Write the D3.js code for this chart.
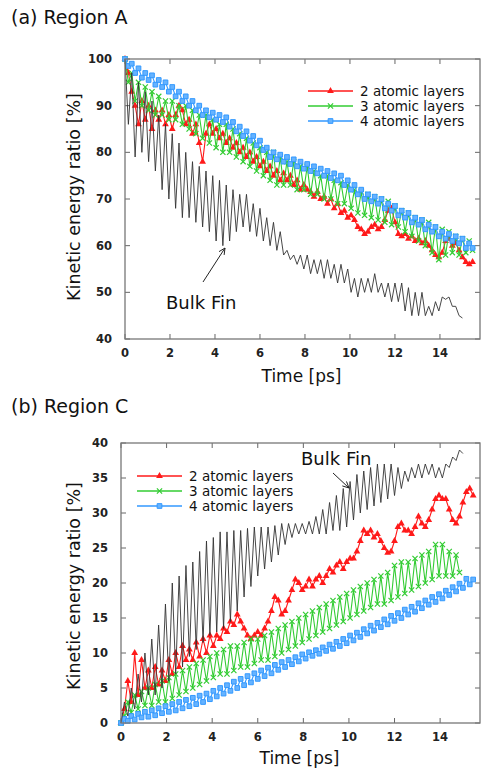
<!DOCTYPE html>
<html><head><meta charset="utf-8">
<script src="https://cdn.jsdelivr.net/npm/d3@7"></script>
<style>body{margin:0;background:#fff}svg{display:block}</style>
</head><body>
<svg id="c" width="485" height="770"></svg>
<script>
// ---------------- data ----------------
const timeStep = 0.15; // ps between samples
const xTickValues = [0, 2, 4, 6, 8, 10, 12, 14];
const yTicksA = [40, 50, 60, 70, 80, 90, 100];
const yTicksC = [0, 5, 10, 15, 20, 25, 30, 35, 40];
const seriesNames = ["2 atomic layers", "3 atomic layers", "4 atomic layers"];
const panelTitles = ["(a) Region A", "(b) Region C"];
const xLabel = "Time [ps]";
const yLabel = "Kinetic energy ratio [%]";
const bulkLabel = "Bulk Fin";

// Region A
const bulkA = [100,86,97,79,95,80,93,78,91,76,88,72,86,70,84,68,82,66,80,66,78,65,77,64,76,63,75,61,74,60,
  73,61,72,63,71,64,71,63,69,62,68,61,66,60,65,59,63,58,59,57,58,56,58,55,58,54,57,54,57,53,
  57,53,56,52,56,52,55,50,53,49,53,50,53,50,54,50,52,49,52,48,52,48,52,46,51,45,50,45,50,45,
  47,45,48,46,49,48.5,49,47,47,45,44.5];
const layer2A = [100,97,93,90,86,91,87,90,85,89,87,89,86,88,85,88,90,89,86,87,84,86,82,78,84,86,84,85,83,84,
  82,83,81,82,80,81,79,80,78,79,77,78,76,77,75,76,74,75.5,74,75,73,74,72,73,72,71.5,70.5,71.5,70,70.5,
  69,70,68,69,67,67.5,66,66.5,65.5,64,63.5,62.5,63,64,64.5,63.5,64,65.5,67.5,68,65,62.5,62,62.5,61.5,62,61,61.5,60.5,61,
  60,59,58,57.5,58.5,61,61.5,60,60.5,59,57.5,56.5,56,56.5];
const layer3A = [100,95,97,91,95,90,94,89,93,88,92,88,91,87,91,87,90,86,90,85,89,84,88,83,88,82,87,81,86,80,
  86,80,85,79,84,78,83,77,82,76,81,75,80,74,80,73,79,73,78,73,78,72,77,72,77,71,76,71,75,70,
  75,70,74,69,73.5,69,73,68,72,67,71.5,66.5,71,66,70.5,65.5,70,65,69.5,64.5,68.5,64,67.5,63,67,62,66,61,65.5,60,
  65,58.5,64,57,63.5,58,63,58.5,62,58,61.5,58.5,61,59];
const layer4A = [100,98.5,99,97,98,96,97,95.5,96.5,94.5,95.5,94,95,93,94,92,93,91,92,90,91,89,90,88,89,87.5,88.5,87,88,86.5,
  87.5,85.5,86.5,84.5,85.5,83.5,84.5,82.5,83.5,81.5,82.5,80.5,81,79,80,78.5,79.5,78,79,77.5,78.5,77,78,76.5,77.5,76,77,75.5,76.5,75,
  76,74.5,75.5,74,75,73,74,72,73,71,72,70,71,69.5,70.5,69,70,68,69,67.5,68.5,66.5,67.5,66,67,65,66,64.5,65.5,63.5,
  64.5,63,64,62,63,61.5,62.5,61,62,60.5,61.5,59.5,60.5,59.5];

// Region C
const bulkC = [0,3,1,5,2,7,3,10,4,12,4,14,5,17,6,20,7,21,8,22.5,9.5,23,10.5,24.5,11.5,26,12.5,26.5,13,27.3,
  13.5,27.3,14.5,27.5,16,27.5,18,27.8,19.5,28,21,28,22,28,23,28.2,24,28.5,25.5,28.5,26.5,28.5,27,28.5,27,28.8,27,29.5,
  27,30.5,27,31.5,27.5,32.5,27.5,33.5,28,34.5,29,35.5,30,36,30.5,36.5,31,37,31.5,37,32,37,32.5,36.5,33.5,36,34.5,36.5,
  35,37,35,37,35.5,37,35,36.5,35,37,36.5,38,37.5,39,38.5];
const layer2C = [0,2,6,3,10,4,9,5,7.5,5,8,5.5,7.5,6,9,7,10,8,11,9,10.5,9,11.5,9.5,12,10,12.5,11,12.5,12,
  13.5,13,14.5,14,15.5,14.5,13.5,12.5,12,12.5,13,12.5,13.5,14.5,16,18,17.5,15.5,16,17.5,19,20.5,20,19,19.5,20.5,19.5,20.5,21,20,
  21,22,21.5,22.5,23,22,23,23.5,23.5,24.5,26,27.5,27,27.5,26.5,27,26,25,24.3,24.5,26,28,28.5,27.5,27.5,27,28,29.5,28.5,28,
  29,30.5,32,32.5,32,32,30.5,29,28.5,29.5,31.5,33,33.5,32.5];
const layer3C = [0,1,3,1.5,4,2,4.5,2.5,5,2.5,5.5,3,6,3,6.5,3.5,7,4,7.5,4.5,8,5,8.5,5.5,9,6,9.5,6.5,10,7,
  10.5,7,11,7.5,11,8,11.5,8,12,8.5,12,9,12.5,9,13,9.5,13.5,10,14,10.5,14.5,11,15,11.5,15.5,12,16,12.5,16.5,13,
  17,13.5,17.5,14,18,14.5,18.5,15,19,15.5,19.5,16,20,16.5,20.5,17,21,17,21.5,17.5,22.5,18,23,18.5,23,19,23.5,19.5,24,20,
  24.5,20.5,25.5,21,25.5,21,24.5,21,24,21.5];
const layer4C = [0,0.6,0.3,1,0.5,1.3,0.8,1.6,0.9,1.8,1.1,2.1,1.4,2.4,1.6,2.7,1.8,3,2.1,3.3,2.4,3.6,2.7,3.9,3,4.2,3.4,4.6,3.8,5,
  4.2,5.4,4.6,5.9,5,6.3,5.4,6.7,5.8,7.1,6.3,7.5,6.7,7.9,7.1,8.3,7.6,8.7,8,9,8.4,9.4,8.8,9.8,9.2,10.1,9.6,10.4,9.9,10.8,
  10.3,11.2,10.6,11.6,11,12,11.4,12.5,11.8,12.9,12.3,13.4,12.8,13.9,13.2,14.3,13.7,14.8,14.1,15.3,14.6,15.7,15,16.2,15.5,16.6,15.9,17.1,16.4,17.5,
  16.9,18,17.3,18.4,17.8,18.9,18.3,19.4,18.8,19.9,19.3,20.6,19.8,20.5];

// ---------------- drawing ----------------
const svg = d3.select("#c");
const FONT = "'DejaVu Sans', Verdana, sans-serif";
const colors = ["#ff1a1a", "#33cc33", "#3399ff"];
const markerFill = ["#ff1a1a", "none", "#66b3ff"];
const toPts = arr => arr.map((v, i) => [i * timeStep, v]);

function marker(sel, k) {
  if (k === 0) {
    sel.append("path").attr("d", d3.symbol(d3.symbolTriangle, 20)()).attr("fill", colors[0]).attr("stroke", "none");
  } else if (k === 1) {
    sel.append("path").attr("d", "M-2.6,-2.6L2.6,2.6M-2.6,2.6L2.6,-2.6").attr("stroke", colors[1]).attr("stroke-width", 1.2).attr("fill", "none");
  } else {
    sel.append("path").attr("d", d3.symbol(d3.symbolSquare, 22)()).attr("fill", markerFill[2]).attr("stroke", colors[2]).attr("stroke-width", 1);
  }
}

function panel(cfg) {
  const x = d3.scaleLinear().domain([0, cfg.xMax]).range([cfg.left, cfg.right]);
  const y = d3.scaleLinear().domain(cfg.yDomain).range([cfg.bottom, cfg.top]);
  const g = svg.append("g");

  // title
  svg.append("text").attr("x", 11).attr("y", cfg.titleY).text(cfg.title)
    .attr("font-family", FONT).attr("font-size", 19).attr("fill", "#111");

  // ticks (inside, mirrored)
  const tk = g.append("g").attr("stroke", "#666").attr("stroke-width", 1);
  xTickValues.forEach(t => {
    tk.append("line").attr("x1", x(t)).attr("x2", x(t)).attr("y1", cfg.bottom).attr("y2", cfg.bottom - 5);
    tk.append("line").attr("x1", x(t)).attr("x2", x(t)).attr("y1", cfg.top).attr("y2", cfg.top + 5);
  });
  cfg.yTicks.forEach(v => {
    tk.append("line").attr("x1", cfg.left).attr("x2", cfg.left + 5).attr("y1", y(v)).attr("y2", y(v));
    tk.append("line").attr("x1", cfg.right).attr("x2", cfg.right - 5).attr("y1", y(v)).attr("y2", y(v));
  });

  // tick labels
  g.append("g").selectAll("text").data(xTickValues).join("text")
    .attr("x", d => x(d)).attr("y", cfg.bottom + 18).attr("text-anchor", "middle")
    .attr("font-family", FONT).attr("font-weight", "bold").attr("font-size", 11.5).attr("fill", "#222").text(d => d);
  g.append("g").selectAll("text").data(cfg.yTicks).join("text")
    .attr("x", cfg.left - 13).attr("y", d => y(d) + 4).attr("text-anchor", "end")
    .attr("font-family", FONT).attr("font-weight", "bold").attr("font-size", 11.5).attr("fill", "#222").text(d => d);

  // axis titles
  g.append("text").attr("x", (cfg.left + cfg.right) / 2 - 1).attr("y", cfg.xLabelY).attr("text-anchor", "middle")
    .attr("font-family", FONT).attr("font-size", 17).attr("fill", "#111").text(xLabel);
  g.append("text").attr("transform", `translate(80,${cfg.yLabelY}) rotate(-90)`).attr("text-anchor", "middle")
    .attr("font-family", FONT).attr("font-size", 17.5).attr("fill", "#111").text(yLabel);

  const line = d3.line().x(d => x(d[0])).y(d => y(d[1]));
  const plot = g.append("g");
  cfg.layers.forEach((arr, k) => {
    const pts = toPts(arr);
    plot.append("path").datum(pts).attr("d", line).attr("fill", "none")
      .attr("stroke", colors[k]).attr("stroke-width", 1.1);
    const mg = plot.append("g");
    pts.forEach(p => {
      const m = mg.append("g").attr("transform", `translate(${x(p[0])},${y(p[1])})`);
      marker(m, k);
    });
  });
  plot.append("path").datum(toPts(cfg.bulk)).attr("d", line).attr("fill", "none")
    .attr("stroke", "#333").attr("stroke-width", 0.9);

  // frame
  g.append("rect").attr("x", cfg.left).attr("y", cfg.top).attr("width", cfg.right - cfg.left)
    .attr("height", cfg.bottom - cfg.top).attr("fill", "none").attr("stroke", "#777").attr("stroke-width", 1.3);

  // legend
  const lg = g.append("g");
  seriesNames.forEach((name, k) => {
    const yy = cfg.legY + k * 15;
    lg.append("line").attr("x1", cfg.legX).attr("x2", cfg.legX + 45).attr("y1", yy).attr("y2", yy)
      .attr("stroke", colors[k]).attr("stroke-width", 1.5);
    marker(lg.append("g").attr("transform", `translate(${cfg.legX + 22.5},${yy})`), k);
    lg.append("text").attr("x", cfg.legX + 52).attr("y", yy + 4.5).attr("font-family", FONT)
      .attr("font-size", 13.5).attr("fill", "#111").text(name);
  });

  // bulk fin annotation
  g.append("text").attr("x", cfg.bulkText[0]).attr("y", cfg.bulkText[1]).attr("font-family", FONT)
    .attr("font-size", 18).attr("fill", "#111").text(bulkLabel);
  const [ax1, ay1, ax2, ay2] = cfg.arrow;
  const ang = Math.atan2(ay2 - ay1, ax2 - ax1);
  const hl = 7, ha = 0.45;
  g.append("path").attr("d",
      `M${ax1},${ay1}L${ax2},${ay2}` +
      `M${ax2 - hl * Math.cos(ang - ha)},${ay2 - hl * Math.sin(ang - ha)}L${ax2},${ay2}` +
      `L${ax2 - hl * Math.cos(ang + ha)},${ay2 - hl * Math.sin(ang + ha)}`)
    .attr("fill", "none").attr("stroke", "#222").attr("stroke-width", 1);
}

panel({
  title: panelTitles[0], titleY: 24,
  left: 125, right: 480, top: 59, bottom: 339, xMax: 15.78,
  yDomain: [40, 100], yTicks: yTicksA,
  xLabelY: 382, yLabelY: 197,
  layers: [layer2A, layer3A, layer4A], bulk: bulkA,
  legX: 308, legY: 91,
  bulkText: [166, 309], arrow: [203, 282, 225, 248]
});
panel({
  title: panelTitles[1], titleY: 413,
  left: 121, right: 480, top: 443, bottom: 723, xMax: 15.75,
  yDomain: [0, 40], yTicks: yTicksC,
  xLabelY: 764, yLabelY: 586,
  layers: [layer2C, layer3C, layer4C], bulk: bulkC,
  legX: 137, legY: 476,
  bulkText: [301, 465], arrow: [333, 473, 349, 488]
});
</script>
</body></html>
